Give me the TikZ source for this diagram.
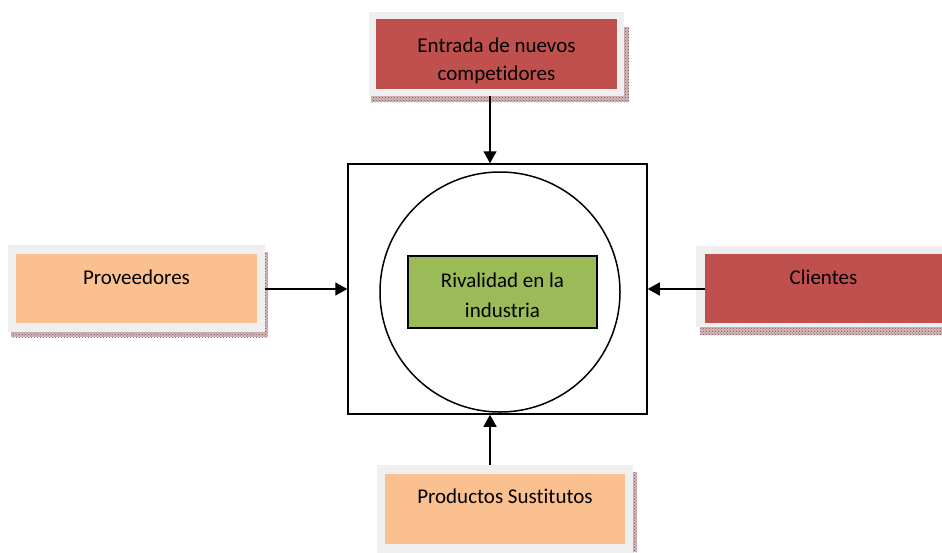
\documentclass[tikz,border=0pt]{standalone}
\usepackage{fontspec}
\setmainfont{Carlito}[Ligatures=NoCommon,RawFeature={-liga;-clig;-dlig}]
\usetikzlibrary{arrows.meta,patterns}
\definecolor{boxred}{HTML}{C0504D}
\definecolor{boxpeach}{HTML}{FAC090}
\definecolor{boxgreen}{HTML}{9BBB59}
\definecolor{framegray}{HTML}{EFEFEF}
\definecolor{shadowbase}{HTML}{D2B8B8}
\definecolor{shadowdots}{HTML}{7F4F4F}
\tikzset{
  frame/.style={fill=framegray, draw=none, inner sep=0pt},
  shadowbox/.style={fill=shadowbase, postaction={pattern=crosshatch dots, pattern color=shadowdots}},
  lbl/.style={font=\fontsize{21}{26}\selectfont, text=black, anchor=base, inner sep=0pt},
  arr/.style={line width=1.6pt, -{Triangle[length=12pt,width=13pt]}},
}
\begin{document}
\begin{tikzpicture}[x=1pt,y=-1pt]
\useasboundingbox (0,0) rectangle (942,552);
\fill[white] (0,0) rectangle (942,552);
% shadows
\fill[shadowbox] (371,27) rectangle (629,102);
\fill[shadowbox] (11,252) rectangle (268,337);
\fill[shadowbox] (700,252) rectangle (942,335);
\fill[shadowbox] (381,472) rectangle (637,552);
% frames
\node[frame, minimum width=255pt, minimum height=84pt] (top) at (496.5,54) {};
\node[frame, minimum width=257pt, minimum height=87pt] (prov) at (136.5,288.5) {};
\node[frame, minimum width=246pt, minimum height=81pt] (cli) at (819,286.5) {};
\node[frame, minimum width=256pt, minimum height=90pt] (prod) at (505,510) {};
% inner fills
\fill[boxred] (376,19) rectangle (617,89);
\fill[boxpeach] (16,254) rectangle (257,323);
\fill[boxred] (705,254) rectangle (942,323);
\fill[boxpeach] (385,474) rectangle (625,544);
% labels
\node[lbl] (t1) at (496.5,52) {Entrada de nuevos};
\node[lbl] (t2) at (496.5,80) {compet\kern0pt idores};
\node[lbl] (tp) at (136.5,284) {Proveedores};
\node[lbl] (tc) at (823.5,284) {Clientes};
\node[lbl] (tpr) at (505,503) {Productos Sust\kern0pt it\kern0pt utos};
% center
\node[draw, line width=1.5pt, minimum width=299pt, minimum height=250pt, inner sep=0pt] (sq) at (497.5,289) {};
\node[draw, circle, line width=1.5pt, minimum size=240pt, inner sep=0pt] (circ) at (500,292) {};
\node[draw, fill=boxgreen, line width=1.2pt, minimum width=189pt, minimum height=72pt, inner sep=0pt] (riv) at (502.5,292) {};
\node[lbl] (r1) at (502.5,287) {Rivalidad en la};
\node[lbl] (r2) at (502.5,317) {industria};
% arrows
\draw[arr] ([xshift=-6.5pt]top.south) -- ([xshift=-6.5pt]top.south |- sq.north);
\draw[arr] (prov.east |- sq.west) -- (sq.west);
\draw[arr] ([xshift=9pt]cli.west |- sq.east) -- (sq.east);
\draw[arr] ([xshift=-15pt]prod.north) -- ([xshift=-15pt]prod.north |- sq.south);
\end{tikzpicture}
\end{document}
